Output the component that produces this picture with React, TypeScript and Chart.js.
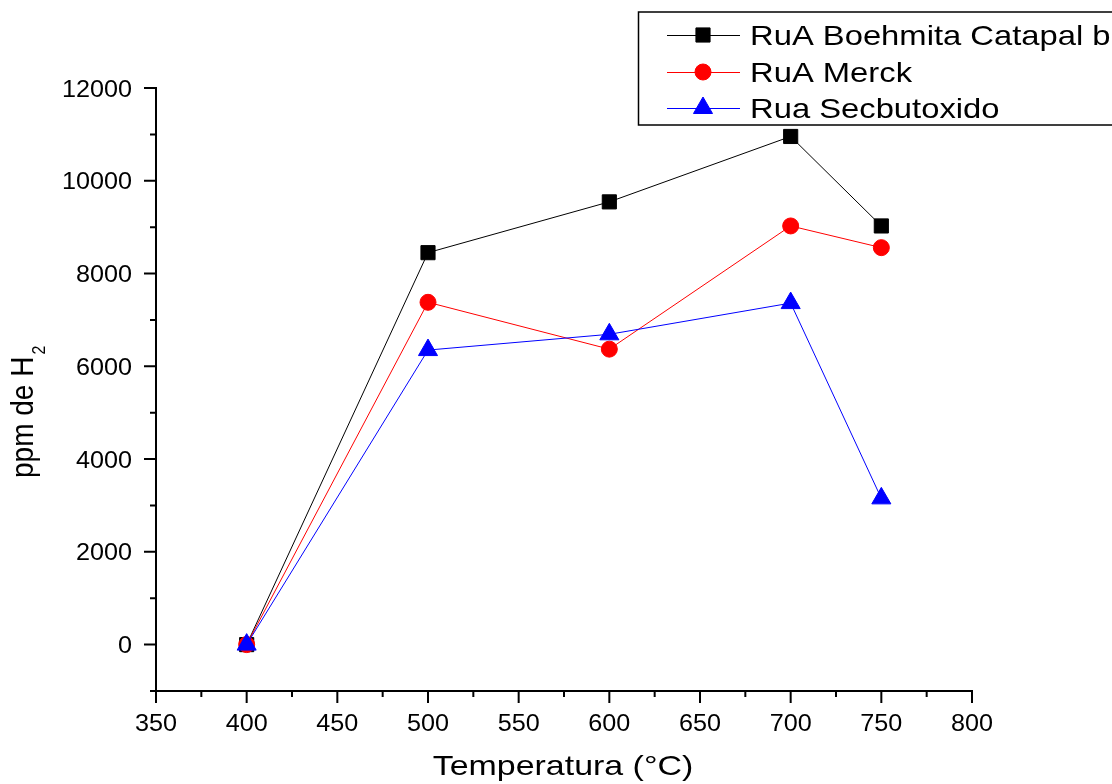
import React, { useEffect, useRef } from 'react';
import { Chart, registerables } from 'chart.js';

Chart.register(...registerables);

// ---- data ----
const temperatures = [400, 500, 600, 700, 750];
const boehmitaCatapal = [0, 8450, 9545, 10955, 9026];
const merck = [0, 7380, 6370, 9026, 8558];
const secbutoxido = [0, 6350, 6690, 7363, 3153];
const seriesLabels = ['RuA Boehmita Catapal b', 'RuA Merck', 'Rua Secbutoxido'];
const seriesColors = ['#000000', '#ff0000', '#0000ff'];
const seriesStyles = ['rect', 'circle', 'triangle'];

const xMajorTicks = [350, 400, 450, 500, 550, 600, 650, 700, 750, 800];
const xMinorTicks = [375, 425, 475, 525, 575, 625, 675, 725, 775];
const yMajorTicks = [0, 2000, 4000, 6000, 8000, 10000, 12000];
const yMinorTicks = [-1000, 1000, 3000, 5000, 7000, 9000, 11000];

const xTitle = 'Temperatura (°C)';
const yTitleMain = 'ppm de H';
const yTitleSub = '2';

const FONT = '"Liberation Sans", Arial, Helvetica, sans-serif';

function drawText(ctx: CanvasRenderingContext2D, text: string, x: number, y: number, size: number, align: CanvasTextAlign, sx: number) {
  ctx.save();
  ctx.translate(x, y);
  ctx.scale(sx, 1);
  ctx.font = `${size}px ${FONT}`;
  ctx.textAlign = align;
  ctx.textBaseline = 'alphabetic';
  ctx.fillStyle = '#000';
  ctx.fillText(text, 0, 0);
  ctx.restore();
}

function drawMarker(ctx: CanvasRenderingContext2D, style: string, x: number, y: number, color: string) {
  ctx.save();
  ctx.fillStyle = color;
  ctx.strokeStyle = color;
  ctx.lineWidth = 1;
  ctx.beginPath();
  if (style === 'rect') {
    const r = 10 * Math.SQRT1_2;
    ctx.rect(x - r, y - r, 2 * r, 2 * r);
  } else if (style === 'circle') {
    ctx.arc(x, y, 8, 0, Math.PI * 2);
  } else {
    const r = 11;
    for (let i = 0; i < 3; i++) {
      const a = (i * 2 * Math.PI) / 3;
      const px = x + Math.sin(a) * r;
      const py = y - Math.cos(a) * r;
      if (i === 0) ctx.moveTo(px, py);
      else ctx.lineTo(px, py);
    }
    ctx.closePath();
  }
  ctx.fill();
  ctx.stroke();
  ctx.restore();
}

const decorPlugin = {
  id: 'decor',
  afterDraw(chart: any) {
    const { ctx, chartArea } = chart;
    const { left, right, top, bottom } = chartArea;
    const xs = chart.scales.x;
    const ys = chart.scales.y;
    ctx.save();
    ctx.strokeStyle = '#000';
    ctx.lineWidth = 2;
    ctx.lineCap = 'square';
    ctx.beginPath();
    ctx.moveTo(left, top);
    ctx.lineTo(left, bottom);
    ctx.lineTo(right, bottom);
    ctx.stroke();
    ctx.lineCap = 'butt';
    ctx.beginPath();
    xMajorTicks.forEach((v) => {
      const px = xs.getPixelForValue(v);
      ctx.moveTo(px, bottom);
      ctx.lineTo(px, bottom + 12);
    });
    xMinorTicks.forEach((v) => {
      const px = xs.getPixelForValue(v);
      ctx.moveTo(px, bottom);
      ctx.lineTo(px, bottom + 6);
    });
    yMajorTicks.forEach((v) => {
      const py = ys.getPixelForValue(v);
      ctx.moveTo(left, py);
      ctx.lineTo(left - 12, py);
    });
    yMinorTicks.forEach((v) => {
      const py = ys.getPixelForValue(v);
      ctx.moveTo(left, py);
      ctx.lineTo(left - 6, py);
    });
    ctx.stroke();
    ctx.restore();

    // tick labels
    xMajorTicks.forEach((v) => {
      drawText(ctx, String(v), xs.getPixelForValue(v), bottom + 40, 24, 'center', 1.05);
    });
    yMajorTicks.forEach((v) => {
      drawText(ctx, String(v), left - 24, ys.getPixelForValue(v) + 8.5, 24, 'right', 1.05);
    });

    // x title
    drawText(ctx, xTitle, 563, 775, 28.5, 'center', 1.19);

    // y title (rotated, with subscript)
    ctx.save();
    ctx.translate(33, 478);
    ctx.scale(1.15, 1);
    ctx.rotate(-Math.PI / 2);
    ctx.fillStyle = '#000';
    ctx.textAlign = 'left';
    ctx.textBaseline = 'alphabetic';
    ctx.font = `28px ${FONT}`;
    ctx.fillText(yTitleMain, 0, 0);
    const w = ctx.measureText(yTitleMain).width;
    ctx.font = `16px ${FONT}`;
    ctx.fillText(yTitleSub, w + 2, 10);
    ctx.restore();

    // legend
    ctx.save();
    ctx.fillStyle = '#fff';
    ctx.fillRect(638, 12, 600, 113);
    ctx.strokeStyle = '#000';
    ctx.lineWidth = 1.5;
    ctx.strokeRect(638.5, 12, 600, 113);
    ctx.restore();
    const rowsY = [35, 72, 108];
    seriesLabels.forEach((lab, i) => {
      const cy = rowsY[i];
      ctx.save();
      ctx.strokeStyle = seriesColors[i];
      ctx.lineWidth = 1;
      ctx.beginPath();
      ctx.moveTo(667, cy + 0.5);
      ctx.lineTo(740, cy + 0.5);
      ctx.stroke();
      ctx.restore();
      drawMarker(ctx, seriesStyles[i], 703, cy, seriesColors[i]);
      drawText(ctx, lab, 750, cy + 10, 28, 'left', 1.17);
    });
  },
};

export default function App() {
  const ref = useRef<HTMLCanvasElement | null>(null);
  useEffect(() => {
    if (!ref.current) return;
    const seriesValues = [boehmitaCatapal, merck, secbutoxido];
    const chart = new Chart(ref.current, {
      type: 'line',
      data: {
        datasets: seriesValues.map((vals, i) => ({
          label: seriesLabels[i],
          data: temperatures.map((t, j) => ({ x: t, y: vals[j] })),
          borderColor: seriesColors[i],
          backgroundColor: seriesColors[i],
          pointBackgroundColor: seriesColors[i],
          pointBorderColor: seriesColors[i],
          pointBorderWidth: 1,
          pointStyle: seriesStyles[i] as any,
          pointRadius: i === 0 ? 10 : i === 1 ? 8 : 11,
          borderWidth: 1,
          tension: 0,
          fill: false,
          order: 2 - i,
        })),
      },
      options: {
        responsive: false,
        animation: false,
        events: [],
        layout: { padding: { top: 88, right: 140, left: 0, bottom: 0 } },
        plugins: { legend: { display: false }, tooltip: { enabled: false }, title: { display: false } },
        scales: {
          x: {
            type: 'linear',
            min: 350,
            max: 800,
            grid: { display: false, drawTicks: false },
            border: { display: false },
            ticks: { display: false, stepSize: 50 },
            afterFit: (s: any) => {
              s.height = 93;
            },
          },
          y: {
            type: 'linear',
            min: -1000,
            max: 12000,
            grid: { display: false, drawTicks: false },
            border: { display: false },
            ticks: { display: false, stepSize: 1000 },
            afterFit: (s: any) => {
              s.width = 156;
            },
          },
        },
      },
      plugins: [decorPlugin],
    });
    return () => chart.destroy();
  }, []);
  return (
    <div style={{ position: 'absolute', left: 0, top: 0, width: 1112, height: 784, background: '#fff' }}>
      <canvas ref={ref} width={1112} height={784} style={{ display: 'block' }} />
    </div>
  );
}
